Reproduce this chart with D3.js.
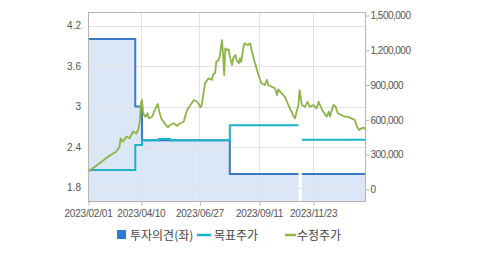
<!DOCTYPE html>
<html><head><meta charset="utf-8">
<script src="https://cdn.jsdelivr.net/npm/d3@7"></script>
<style>
html,body{margin:0;padding:0;background:#fff;}
svg{display:block;}
</style></head>
<body>
<svg id="chart" width="479" height="255"></svg>
<script>
// ---- data (x = trading-day index from 2023/02/01) ----
const xTickDays   = [0, 47, 99, 152, 200];
const xTickLabels = ["2023/02/01", "2023/04/10", "2023/06/27", "2023/09/11", "2023/11/23"];
const lastDay = 247;

const leftTicks  = [1.8, 2.4, 3, 3.6, 4.2];
const rightTicks = [0, 300000, 600000, 900000, 1200000, 1500000];

// 투자의견 (left axis), step series
const opinionDay = [0, 42, 48, 126, 187, 188, 190, 247];
const opinion    = [4, 3, 2.5, 2, 2, null, 2, 2];

// 목표주가 (right axis), step series
const targetDay = [0, 42, 48, 63, 73, 126, 187, 188, 190, 247];
const target    = [167000, 383000, 425000, 434000, 425000, 554000, 554000, null, 428000, 428000];

// 수정주가 (right axis)
const priceDay = [0,7,12,16,20,25,28,29,31,34,37,40,43,45,46,47,48,49,51,53,54,57,60,62,63,65,68,71,73,76,79,82,85,88,91,94,97,100,101,104,107,110,111,113,114,116,117,119,120,121,122,123,125,126,128,129,131,132,134,135,136,138,139,142,144,145,148,151,154,157,159,160,163,166,168,169,172,175,178,180,181,182,184,185,187,188,190,193,195,197,200,203,205,208,211,212,214,215,218,220,222,225,228,231,234,237,239,241,243,245,247];
const price    = [153000,202000,239000,268000,297000,325000,368000,441000,411000,455000,441000,498000,484000,527000,584000,743000,771000,656000,627000,656000,613000,627000,699000,737000,685000,613000,570000,536000,555000,570000,549000,570000,584000,685000,728000,771000,756000,708000,728000,915000,958000,944000,987000,1006000,1101000,1116000,1144000,1288000,1174000,987000,1217000,1202000,1208000,1144000,1073000,1131000,1159000,1116000,1088000,1131000,1101000,1217000,1260000,1245000,1260000,1217000,1101000,1001000,915000,900000,944000,900000,886000,872000,814000,863000,829000,799000,728000,685000,670000,642000,613000,656000,728000,857000,728000,713000,756000,713000,728000,699000,756000,685000,642000,627000,670000,627000,728000,713000,656000,642000,627000,627000,613000,599000,541000,512000,527000,532000,512000];

const legendItems = ["투자의견(좌)", "목표주가", "수정주가"];

// ---- layout ----
const svg = d3.select("#chart");
const L = 88, R = 366, T = 12, B = 201;
const numFont = "'Liberation Sans', Arial, sans-serif";

const x  = d3.scaleLinear().domain([0, lastDay]).range([L, R]);
const yL = d3.scaleLinear().domain([1.6, 4.4]).range([B, T]);
const yR = d3.scaleLinear().domain([-100000, 1530000]).range([B, T]);

const cBlue = "#3a78c8", cFill = "#dbe6f7", cCyan = "#1bb3c6", cGreen = "#8db446";

// opinion area
const opData = opinionDay.map((d, i) => ({d, v: opinion[i]}));
const area = d3.area().defined(p => p.v != null).curve(d3.curveStepAfter)
  .x(p => x(p.d)).y0(B).y1(p => yL(p.v));
svg.append("path").attr("d", area(opData)).attr("fill", cFill);

// grid
const g = svg.append("g");
g.selectAll("line.h").data(leftTicks).join("line")
  .attr("x1", L).attr("x2", R).attr("y1", d => Math.round(yL(d)) + 0.5).attr("y2", d => Math.round(yL(d)) + 0.5)
  .attr("stroke", "#e2e2e2").attr("stroke-width", 1);
g.selectAll("line.v").data(xTickDays.slice(1)).join("line")
  .attr("y1", T).attr("y2", B).attr("x1", d => Math.round(x(d)) + 0.5).attr("x2", d => Math.round(x(d)) + 0.5)
  .attr("stroke", "#e2e2e2").attr("stroke-width", 1);

// opinion line
const opLine = d3.line().defined(p => p.v != null).curve(d3.curveStepAfter)
  .x(p => x(p.d)).y(p => yL(p.v));
svg.append("path").attr("d", opLine(opData)).attr("fill", "none").attr("stroke", cBlue).attr("stroke-width", 2);

// target line
const tgData = targetDay.map((d, i) => ({d, v: target[i]}));
const tgLine = d3.line().defined(p => p.v != null).curve(d3.curveStepAfter)
  .x(p => x(p.d)).y(p => yR(p.v));
svg.append("path").attr("d", tgLine(tgData)).attr("fill", "none").attr("stroke", cCyan).attr("stroke-width", 2);

// price line
const prData = priceDay.map((d, i) => ({d, v: price[i]}));
const prLine = d3.line().x(p => x(p.d)).y(p => yR(p.v));
svg.append("path").attr("d", prLine(prData)).attr("fill", "none").attr("stroke", cGreen)
  .attr("stroke-width", 1.8).attr("stroke-linejoin", "round");

// frame
svg.append("rect").attr("x", L + 0.5).attr("y", T + 0.5).attr("width", R - L - 1).attr("height", B - T)
  .attr("fill", "none").attr("stroke", "#b4b4b4");

// axes
function styleAxis(sel, ls) {
  sel.select(".domain").remove();
  sel.selectAll("line").attr("stroke", "#b4b4b4");
  sel.selectAll("text").attr("fill", "#555").style("font-family", numFont).style("font-size", "10px")
    .style("letter-spacing", ls);
}
const axB = svg.append("g").attr("transform", `translate(0,${B + 0.5})`)
  .call(d3.axisBottom(x).tickValues(xTickDays).tickFormat((d, i) => xTickLabels[i]).tickSize(4).tickPadding(4));
styleAxis(axB, "-0.2px");
axB.selectAll(".tick line").attr("transform", "translate(0.5,0)");

const axL = svg.append("g").attr("transform", `translate(${L},0)`)
  .call(d3.axisLeft(yL).tickValues(leftTicks).tickFormat(d3.format("")).tickSize(0).tickPadding(7));
styleAxis(axL, "0px");

const axR = svg.append("g").attr("transform", `translate(${R - 0.5},0)`)
  .call(d3.axisRight(yR).tickValues(rightTicks).tickFormat(d3.format(",")).tickSize(4).tickPadding(1));
styleAxis(axR, "-0.5px");

// legend
const lg = svg.append("g").style("font-family", "'Noto Sans CJK KR', sans-serif").style("font-size", "12px");
lg.append("rect").attr("x", 117).attr("y", 230).attr("width", 9).attr("height", 9).attr("fill", "#2f7bd8");
lg.append("text").attr("x", 130).attr("y", 239.5).attr("fill", "#444").text(legendItems[0]);
lg.append("line").attr("x1", 197).attr("x2", 211).attr("y1", 235).attr("y2", 235).attr("stroke", cCyan).attr("stroke-width", 2.5);
lg.append("text").attr("x", 214).attr("y", 239.5).attr("fill", "#444").text(legendItems[1]);
lg.append("line").attr("x1", 285).attr("x2", 296).attr("y1", 235).attr("y2", 235).attr("stroke", cGreen).attr("stroke-width", 2.5);
lg.append("text").attr("x", 297).attr("y", 239.5).attr("fill", "#444").text(legendItems[2]);
</script>
</body></html>
